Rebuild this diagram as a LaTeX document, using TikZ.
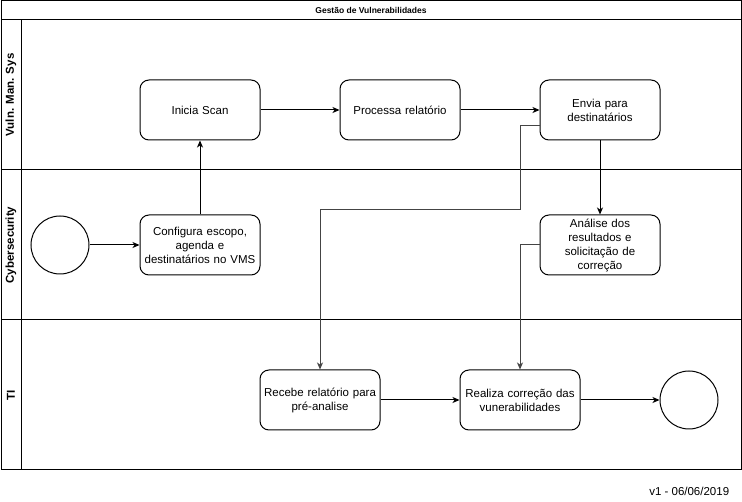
\documentclass[tikz,border=0pt]{standalone}
\usepackage{fontspec}
\setmainfont{Liberation Sans}
\usetikzlibrary{arrows.meta}
\definecolor{elbow}{HTML}{444444}
\begin{document}
\begin{tikzpicture}[x=1pt,y=-1pt,line width=1pt,
  task/.style={draw,rounded corners=9pt,minimum width=120pt,minimum height=60pt,
    align=center,font=\fontsize{11.5}{14}\selectfont,inner sep=1pt,text width=118pt},
  event/.style={draw,circle,minimum size=58pt,inner sep=0pt},
  flow/.style={-{Stealth[length=7pt,width=6pt,inset=2pt]}},
  lanelabel/.style={rotate=90,font=\bfseries\fontsize{11.5}{14}\selectfont}]
\useasboundingbox (0,0) rectangle (742,502);
% pool frame, title bar and lanes
\draw (1,1) rectangle (741,470);
\draw (1,20) -- (741,20);
\draw (21,20) -- (21,470);
\draw (1,170) -- (741,170);
\draw (1,320) -- (741,320);
\node[font=\bfseries\fontsize{8.5}{10}\selectfont] (title) at (371,10.5) {Gestão de Vulnerabilidades};
\node[lanelabel] (l1) at (11,95) {Vuln. Man. Sys};
\node[lanelabel] (l2) at (11,245) {Cybersecurity};
\node[lanelabel] (l3) at (11,395) {TI};
% activities
\node[task] (inicia) at (200,110) {Inicia Scan};
\node[task] (processa) at (400,110) {Processa relatório};
\node[task] (envia) at (600,110) {Envia para\\destinatários};
\node[task] (configura) at (200,245) {Configura escopo,\\agenda e\\destinatários no VMS};
\node[task] (analise) at (600,245) {Análise dos\\resultados e\\solicitação de\\correção};
\node[task] (recebe) at (320,400) {Recebe relatório para\\pré-analise};
\node[task] (realiza) at (520,400) {Realiza correção das\\vunerabilidades};
\node[event] (start) at (60,245) {};
\node[event] (end) at (689,400) {};
% sequence flows
\draw[flow] (start) -- (configura);
\draw[flow] (configura) -- (inicia);
\draw[flow] (inicia) -- (processa);
\draw[flow] (processa) -- (envia);
\draw[flow] (envia) -- (analise);
\draw[flow,elbow] (envia.west |- 0,126) -- (520,126) -- (520,210) -- (320,210) -- (recebe.north);
\draw[flow,elbow] (analise.west) -- (520,245) -- (realiza.north);
\draw[flow] (recebe) -- (realiza);
\draw[flow] (realiza) -- (end);
\node[font=\fontsize{11.5}{14}\selectfont,anchor=east] (version) at (733,491) {v1 - 06/06/2019};
\end{tikzpicture}
\end{document}
